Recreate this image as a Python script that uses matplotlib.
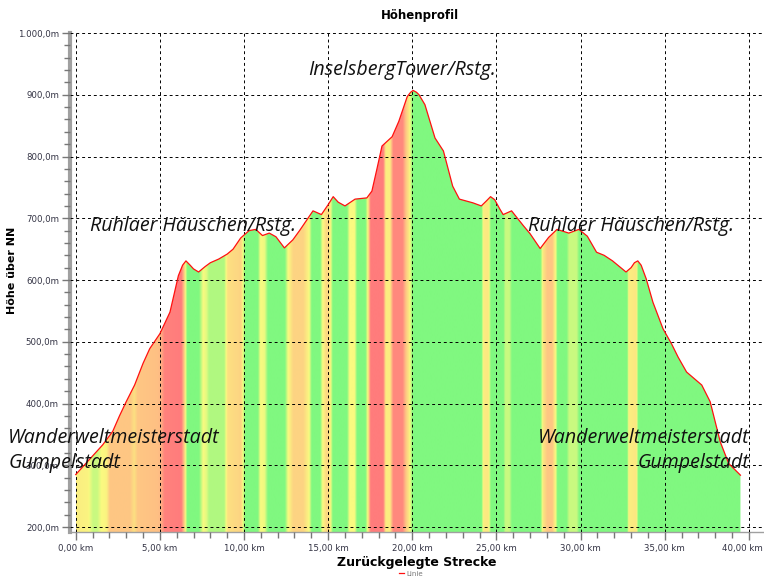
import numpy as np
import matplotlib
matplotlib.use("Agg")
import matplotlib.pyplot as plt
from matplotlib.colors import LinearSegmentedColormap
from matplotlib.ticker import MultipleLocator, FuncFormatter
from matplotlib.transforms import ScaledTranslation

# ---------------- data ----------------
distance_km = [0, 0.5, 1.0, 1.6, 2.2, 2.6, 3.0, 3.5, 4.0, 4.4,
               5.0, 5.6, 6.1, 6.35, 6.55, 6.8, 7.0, 7.3, 7.7, 8.0, 8.5, 9.0,
               9.35, 9.8, 10.3, 10.7, 11.1, 11.5, 11.9, 12.4, 12.9, 13.3,
               13.7, 14.1, 14.6, 15.0, 15.3, 15.6, 16.0, 16.6, 17.3, 17.6, 17.9,
               18.2, 18.8, 19.2, 19.7, 19.9, 20.05, 20.25, 20.4, 20.75, 21.35, 21.85, 22.4,
               22.8, 23.6, 24.1, 24.4, 24.65, 24.9, 25.2, 25.4, 25.9, 26.6, 27.0, 27.6,
               28.1, 28.6, 29.3, 29.9, 30.4, 30.95, 31.4, 31.9, 32.7, 33.0,
               33.2, 33.4, 33.6, 33.9, 34.3, 34.9, 35.4, 35.8, 36.3, 37.2, 37.7, 38.3,
               38.8, 39.5]
elevation_m = [285, 300, 315, 333, 355, 380, 403, 430, 465, 489,
               513, 548, 607, 624, 631, 624, 618, 613, 622, 628, 634, 642,
               650, 668, 680, 682, 672, 676, 670, 652, 665, 680,
               696, 712, 706, 722, 735, 726, 720, 731, 733, 744, 780,
               817, 832, 857, 897, 904, 907, 904, 900, 884, 830, 809, 752,
               731, 725, 720, 728, 735, 730, 715, 706, 712, 688, 675, 651,
               669, 682, 676, 682, 671, 645, 640, 631, 613, 620,
               628, 631, 624, 602, 564, 521, 497, 475, 451, 430, 403, 338,
               303, 284]

# gradient class along the route (0 = green, 1 = yellow, 2 = orange, 3 = red)
band_km = [0.0, 0.7, 1.0, 1.25, 1.5, 1.8, 2.0, 3.2, 3.45, 3.65, 4.8, 5.0, 5.25, 6.25,
           6.45, 6.6, 7.3, 7.55, 7.75, 7.9, 8.8, 9.0, 9.8, 10.05, 10.8, 10.95, 11.2,
           11.4, 12.4, 12.6, 12.9, 13.5, 13.85, 14.0, 14.5, 14.65, 14.9, 15.1, 15.25,
           16.1, 16.25, 16.55, 16.7, 17.2, 17.35, 17.5, 18.25, 18.4, 18.65, 18.85,
           19.4, 19.6, 19.8, 20.0, 24.1, 24.2, 24.5, 24.65, 25.4, 25.5, 25.75, 25.9,
           27.6, 27.75, 28.0, 28.3, 28.5, 28.6, 29.15, 29.3, 29.75, 29.9, 32.75,
           32.85, 33.3, 33.4, 39.5]
band_level = [1.2, 1.1, 0.6, 0.6, 1.0, 1.1, 1.8, 1.8, 1.4, 1.8, 1.9, 2.0, 2.9, 3.0,
              1.5, 0.0, 0.0, 1.0, 0.8, 0.4, 0.4, 1.4, 1.6, 0.0, 0.0, 1.0, 0.9,
              0.0, 0.0, 1.0, 1.6, 1.6, 1.0, 0.0, 0.0, 1.0, 1.6, 1.2, 0.0,
              0.0, 1.0, 1.0, 0.0, 0.0, 1.2, 3.0, 3.0, 1.2, 1.2, 2.8,
              2.8, 1.8, 1.2, 0.0, 0.0, 1.2, 1.3, 0.0, 0.0, 0.6, 0.6, 0.0,
              0.0, 1.3, 1.8, 1.8, 1.0, 0.0, 0.0, 0.6, 0.6, 0.0, 0.0,
              1.2, 1.3, 0.0, 0.0]

labels = ["Wanderweltmeisterstadt\nGumpelstadt", "Ruhlaer Häuschen/Rstg.",
          "InselsbergTower/Rstg.", "Ruhlaer Häuschen/Rstg.",
          "Wanderweltmeisterstadt\nGumpelstadt"]

# ---------------- figure ----------------
fig = plt.figure(figsize=(7.64, 5.76), dpi=100)
ax = fig.add_axes([70 / 764, 44 / 576, 694 / 764, 499 / 576])
ymin, ymax = 192, 1000
ax.set_xlim(-0.34, 40.9)
ax.set_ylim(ymin, ymax)

cmap = LinearSegmentedColormap.from_list(
    "grade", [(0.0, "#80f880"), (1 / 3, "#fafa80"), (2 / 3, "#ffba84"), (1.0, "#ff7c7c")])

xs = np.linspace(band_km[0], band_km[-1], 1600)
lv = np.interp(xs, band_km, band_level)
img = cmap(lv / 3.0)[np.newaxis, :, :3]

poly = ax.fill_between(distance_km, ymin, elevation_m, color="none", lw=0)
im = ax.imshow(img, extent=[band_km[0], band_km[-1], ymin, ymax], aspect="auto",
               interpolation="bilinear", origin="lower", zorder=1)
clip = poly.get_paths()[0]
im.set_clip_path(clip, transform=ax.transData)

ax.plot(distance_km, elevation_m, color="#ff1010", lw=0.9, zorder=3, label="Linie")

# grid
ax.grid(True, which="major", color="black", linestyle=(0, (3, 3)), lw=0.7, zorder=4)
ax.set_axisbelow(False)

ax.xaxis.set_major_locator(MultipleLocator(5))
ax.xaxis.set_minor_locator(MultipleLocator(1))
ax.yaxis.set_major_locator(MultipleLocator(100))
ax.yaxis.set_minor_locator(MultipleLocator(20))


def fmt_km(v, p):
    return ("%.2f km" % v).replace(".", ",")


def fmt_m(v, p):
    s = "{:,.1f}".format(v)
    s = s.replace(",", "X").replace(".", ",").replace("X", ".")
    return s + "m"


ax.xaxis.set_major_formatter(FuncFormatter(fmt_km))
ax.yaxis.set_major_formatter(FuncFormatter(fmt_m))
ax.tick_params(axis="both", which="major", labelsize=6.2, colors="#777777",
               labelcolor="#333344", length=6, width=1)
ax.tick_params(axis="both", which="minor", colors="#777777", length=4, width=1)
ax.tick_params(axis="y", pad=2)
ax.tick_params(axis="x", pad=3)

for s in ["top", "right"]:
    ax.spines[s].set_visible(False)
ax.spines["left"].set_color("#a0a0a0")
ax.spines["left"].set_linewidth(3)
ax.spines["bottom"].set_color("#a0a0a0")
ax.spines["bottom"].set_linewidth(1)

ax.set_xlabel("Zurückgelegte Strecke", fontsize=9, fontweight="bold", labelpad=2)
fig.text(12 / 764, 1 - 270 / 576, "Höhe über NN", rotation=90, ha="center",
         va="center", fontsize=8, fontweight="bold")
fig.text(420 / 764, 1 - 16 / 576, "Höhenprofil", ha="center", va="center",
         fontsize=8.5, fontweight="bold")

# annotations
afont = dict(family="Open Sans", style="italic", fontsize=14.1, color="#111111")
ax.text(-4.02, 344, labels[0].split("\n")[0], ha="left", va="center", clip_on=False, **afont)
ax.text(-4.02, 303, labels[0].split("\n")[1], ha="left", va="center", clip_on=False, **afont)
ax.text(6.98, 687, labels[1], ha="center", va="center", **afont)
ax.text(19.4, 940, labels[2], ha="center", va="center", **afont)
ax.text(33.0, 687, labels[3], ha="center", va="center", **afont)
ax.text(40.06, 344, labels[4].split("\n")[0], ha="right", va="center", clip_on=False, **afont)
ax.text(40.06, 303, labels[4].split("\n")[1], ha="right", va="center", clip_on=False, **afont)

fig.legend(loc="lower center", bbox_to_anchor=(411 / 764, -0.012), fontsize=5,
           frameon=False, handlelength=0.8, handletextpad=0.3, labelcolor="#777777")

# keep the last x tick label inside the figure, as in the reference
fig.canvas.draw()
for t in ax.get_xticklabels():
    if t.get_text().startswith("40"):
        t.set_transform(t.get_transform() + ScaledTranslation(-0.06, 0, fig.dpi_scale_trans))

fig.savefig("out.png", dpi=100)
